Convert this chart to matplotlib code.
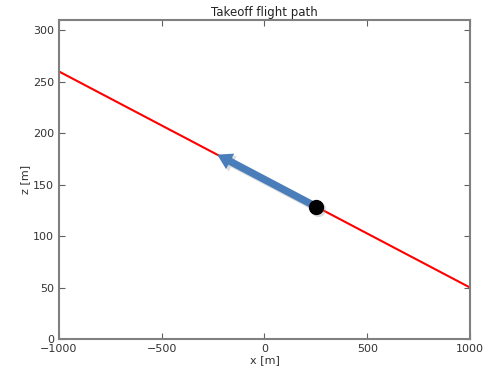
import matplotlib
matplotlib.use("Agg")
import matplotlib.pyplot as plt
import matplotlib.patheffects as pe
from matplotlib.transforms import offset_copy

# Flight path line endpoints and current state
path_x = [-1000, 1000]
path_z = [260, 50]
pos_x, pos_z = 250, 128.75
vel_tip_x, vel_tip_z = -230, 179.2

xlim = (-1000, 1000)
ylim = (0, 310)
xticks = [-1000, -500, 0, 500, 1000]
yticks = [0, 50, 100, 150, 200, 250, 300]

fig = plt.figure(figsize=(4.94, 3.71), dpi=100)
ax = fig.add_axes([0.1194, 0.0863, 0.832, 0.8597])

ax.plot(path_x, path_z, color="red", lw=1.5, zorder=2)

arrow_style = "simple,head_length=0.75,head_width=0.9,tail_width=0.38"
shadow_tr = offset_copy(ax.transData, fig=fig, x=2.5, y=-2.5, units="dots")
ax.annotate("", xy=(vel_tip_x, vel_tip_z), xytext=(pos_x, pos_z),
            xycoords=shadow_tr, textcoords=shadow_tr,
            arrowprops=dict(arrowstyle=arrow_style, mutation_scale=14,
                            color="#999999", alpha=0.35, lw=0,
                            shrinkA=0, shrinkB=0),
            zorder=2.5)
ax.annotate("", xy=(vel_tip_x, vel_tip_z), xytext=(pos_x, pos_z),
            arrowprops=dict(arrowstyle=arrow_style, mutation_scale=14,
                            color="#4a7ebb", lw=0, shrinkA=0, shrinkB=0),
            zorder=3)

ax.plot([pos_x], [pos_z], "o", color="#999999", alpha=0.35, markersize=11,
        markeredgewidth=0, transform=shadow_tr, zorder=3.5)
ax.plot([pos_x], [pos_z], "o", color="black", markersize=10, zorder=4)

ax.set_xlim(*xlim)
ax.set_ylim(*ylim)
ax.set_xticks(xticks)
ax.set_yticks(yticks)
ax.tick_params(direction="in", top=True, right=True, labelsize=8,
               colors="#606060", labelcolor="#333333", length=4, width=0.8)
for s in ax.spines.values():
    s.set_color("#808080")
    s.set_linewidth(1.5)

ax.set_title("Takeoff flight path", fontsize=8.5, pad=3, color="#222222")
ax.set_xlabel("x [m]", fontsize=8, labelpad=1, color="#333333")
ax.set_ylabel("z [m]", fontsize=8, labelpad=2, color="#333333")

fig.savefig("out.png", dpi=100)
